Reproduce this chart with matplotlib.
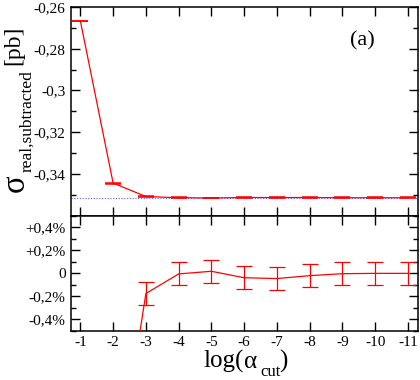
import matplotlib
matplotlib.use("Agg")
import matplotlib.pyplot as plt
from matplotlib.ticker import MultipleLocator, FixedLocator, FuncFormatter

plt.rcParams['font.family'] = ['Liberation Serif', 'DejaVu Serif']
plt.rcParams['mathtext.fontset'] = 'custom'
plt.rcParams['mathtext.rm'] = 'Liberation Serif'
plt.rcParams['axes.unicode_minus'] = False

# data
log_acut = [-1, -2, -3, -4, -5, -6, -7, -8, -9, -10, -11]
sigma = [-0.2667, -0.3444, -0.3508, -0.3514, -0.3515, -0.3513, -0.3513,
         -0.3513, -0.3514, -0.3514, -0.3514]
sigma_err = [0.0002] * 11
sigma_ref = -0.3514
dev_pct = [-24.1, -2.0, -0.175, -0.005, 0.018, -0.038, -0.045, -0.02,
           -0.003, 0.0, 0.0]
dev_err = [0.1, 0.1, 0.1, 0.1, 0.1, 0.1, 0.1, 0.1, 0.1, 0.1, 0.1]

top_ticks = [-0.34, -0.32, -0.30, -0.28, -0.26]
bot_ticks = [-0.4, -0.2, 0.0, 0.2, 0.4]

W, H = 420, 380
fig = plt.figure(figsize=(4.2, 3.8), dpi=100)
ax1 = fig.add_axes([0.168, 0.4324, 0.8265, 0.5492])
ax2 = fig.add_axes([0.168, 0.1289, 0.8265, 0.3035])

red = '#ff0000'

ax1.axhline(sigma_ref, color='#6060ff', lw=0.8, ls=(0, (1, 1.5)), zorder=1)
ax1.errorbar(log_acut, sigma, yerr=sigma_err, color=red, lw=0.9,
             elinewidth=0.9, capsize=5.5, capthick=1.1, zorder=3)
ax2.errorbar(log_acut, dev_pct, yerr=dev_err, color=red, lw=0.9,
             elinewidth=0.9, capsize=5.5, capthick=0.9, zorder=3)

for ax in (ax1, ax2):
    ax.set_xlim(-0.7, -11.3)
    ax.set_xticks(log_acut)
    ax.tick_params(direction='in', which='both', top=True, right=True,
                   labelsize=11, width=1.0)
    ax.tick_params(which='major', length=6.5)
    ax.tick_params(which='minor', length=3.5)
    for s in ax.spines.values():
        s.set_linewidth(1.1)

ax1.set_ylim(-0.36, -0.26)
ax1.yaxis.set_major_locator(FixedLocator(top_ticks))
ax1.yaxis.set_minor_locator(MultipleLocator(0.01))
ax1.yaxis.set_major_formatter(FuncFormatter(
    lambda v, p: f'{round(v, 3):g}'.replace('.', ',')))
ax1.tick_params(axis='x', labelbottom=False)

ax2.set_ylim(-0.5, 0.5)
ax2.yaxis.set_major_locator(FixedLocator(bot_ticks))
ax2.yaxis.set_minor_locator(MultipleLocator(0.1))


def pct(v, p):
    if abs(v) < 1e-9:
        return '0'
    s = f'{v:+.1f}'.replace('.', ',')
    return s + '%'


ax2.yaxis.set_major_formatter(FuncFormatter(pct))
ax2.set_xticklabels([str(v) for v in log_acut])

ax1.text(0.84, 0.84, '(a)', transform=ax1.transAxes, fontsize=16,
         ha='center', va='center')


def ptext(x, y, s, size, rot=0):
    fig.text(x / W, 1 - y / H, s, fontsize=size, rotation=rot,
             rotation_mode='anchor', ha='left', va='baseline')


# y label: sigma_{real,subtracted} [pb]
ptext(25, 194, r'$\mathrm{σ}$', 23.5, 90)
ptext(31, 172, 'real,subtracted', 12.5, 90)
ptext(19, 65, '[pb]', 17, 90)

# x label: log(alpha_cut)
ptext(203, 368, 'log(', 18)
ptext(244, 368, 'α', 18)
ptext(260, 376, 'cut', 12)
ptext(279, 368, ')', 18)

fig.savefig('out.png', dpi=100)
